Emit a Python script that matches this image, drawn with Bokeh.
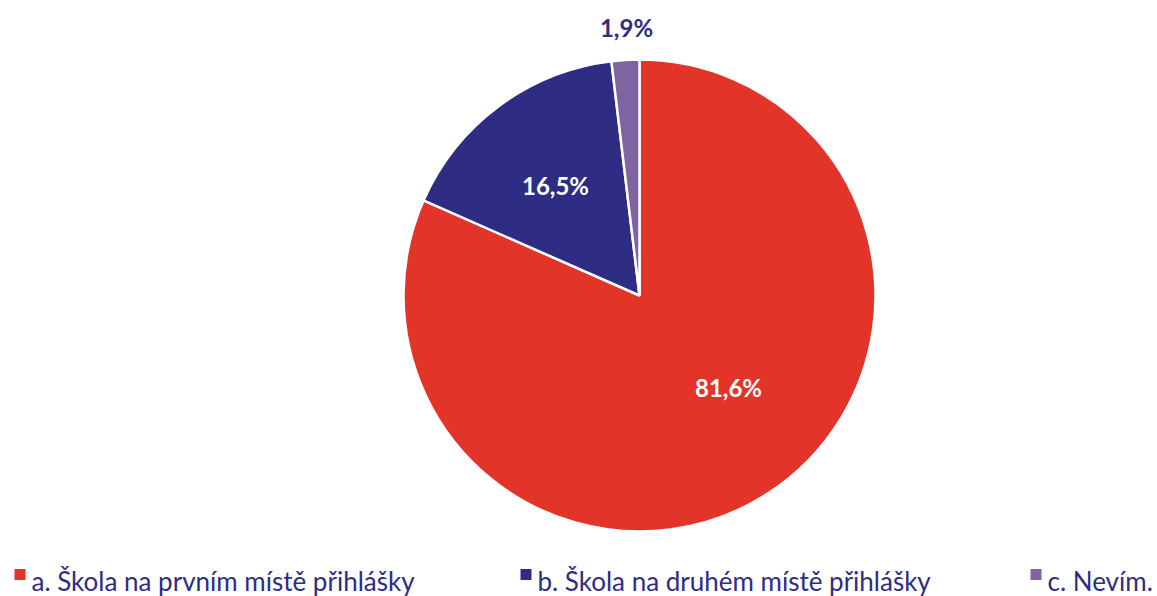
import math
from bokeh.plotting import figure
from bokeh.models import ColumnDataSource, Range1d
from bokeh.core.properties import value
from bokeh.embed import file_html
from bokeh.resources import INLINE

categories = ["a. Škola na prvním místě přihlášky", "b. Škola na druhém místě přihlášky", "c. Nevím."]
shares = [81.6, 16.5, 1.9]
labels = ["81,6%", "16,5%", "1,9%"]
colors = ["#E3342A", "#2E2D83", "#8064A2"]

W, H = 1157, 596
PAGE_H = 596

def py(y):
    return PAGE_H - y

p = figure(width=W, height=H, output_backend="svg", toolbar_location=None,
           x_range=Range1d(0, W), y_range=Range1d(py(H), py(0)),
           min_border=0, outline_line_color=None)
p.axis.visible = False
p.grid.visible = False
p.background_fill_color = "white"
p.border_fill_color = "white"

cx, cy, r = 639, py(295), 236
total = sum(shares)
starts, ends = [], []
a = math.pi / 2
for s in shares:
    starts.append(a)
    a -= s / total * 2 * math.pi
    ends.append(a)

src = ColumnDataSource(dict(start=starts, end=ends, color=colors))
p.wedge(x=cx, y=cy, radius=r, start_angle="start", end_angle="end", direction="clock",
        fill_color="color", line_color="white", line_width=2.5, source=src)

# labels
lab_pos = [(728, py(387)), (555, py(185)), (626, py(27))]
lab_colors = ["white", "white", "#2E2D83"]
p.text(x=[q[0] for q in lab_pos], y=[q[1] for q in lab_pos], text=labels,
       text_color=lab_colors, text_font=value("Lato"), text_font_style="bold",
       text_font_size="24px", text_align="center", text_baseline="middle")

# legend
leg_x = [14, 520, 1030]
p.rect(x=[x + 5.5 for x in leg_x], y=[py(574)] * 3, width=11, height=11, fill_color=colors, line_color=None)
p.text(x=[x + 17 for x in leg_x], y=[py(580)] * 3, text=categories, text_color="#2E2D83",
       text_font=value("Lato"), text_font_size="26px", text_align="left", text_baseline="alphabetic")

open("out.html", "w").write(file_html(p, INLINE))
